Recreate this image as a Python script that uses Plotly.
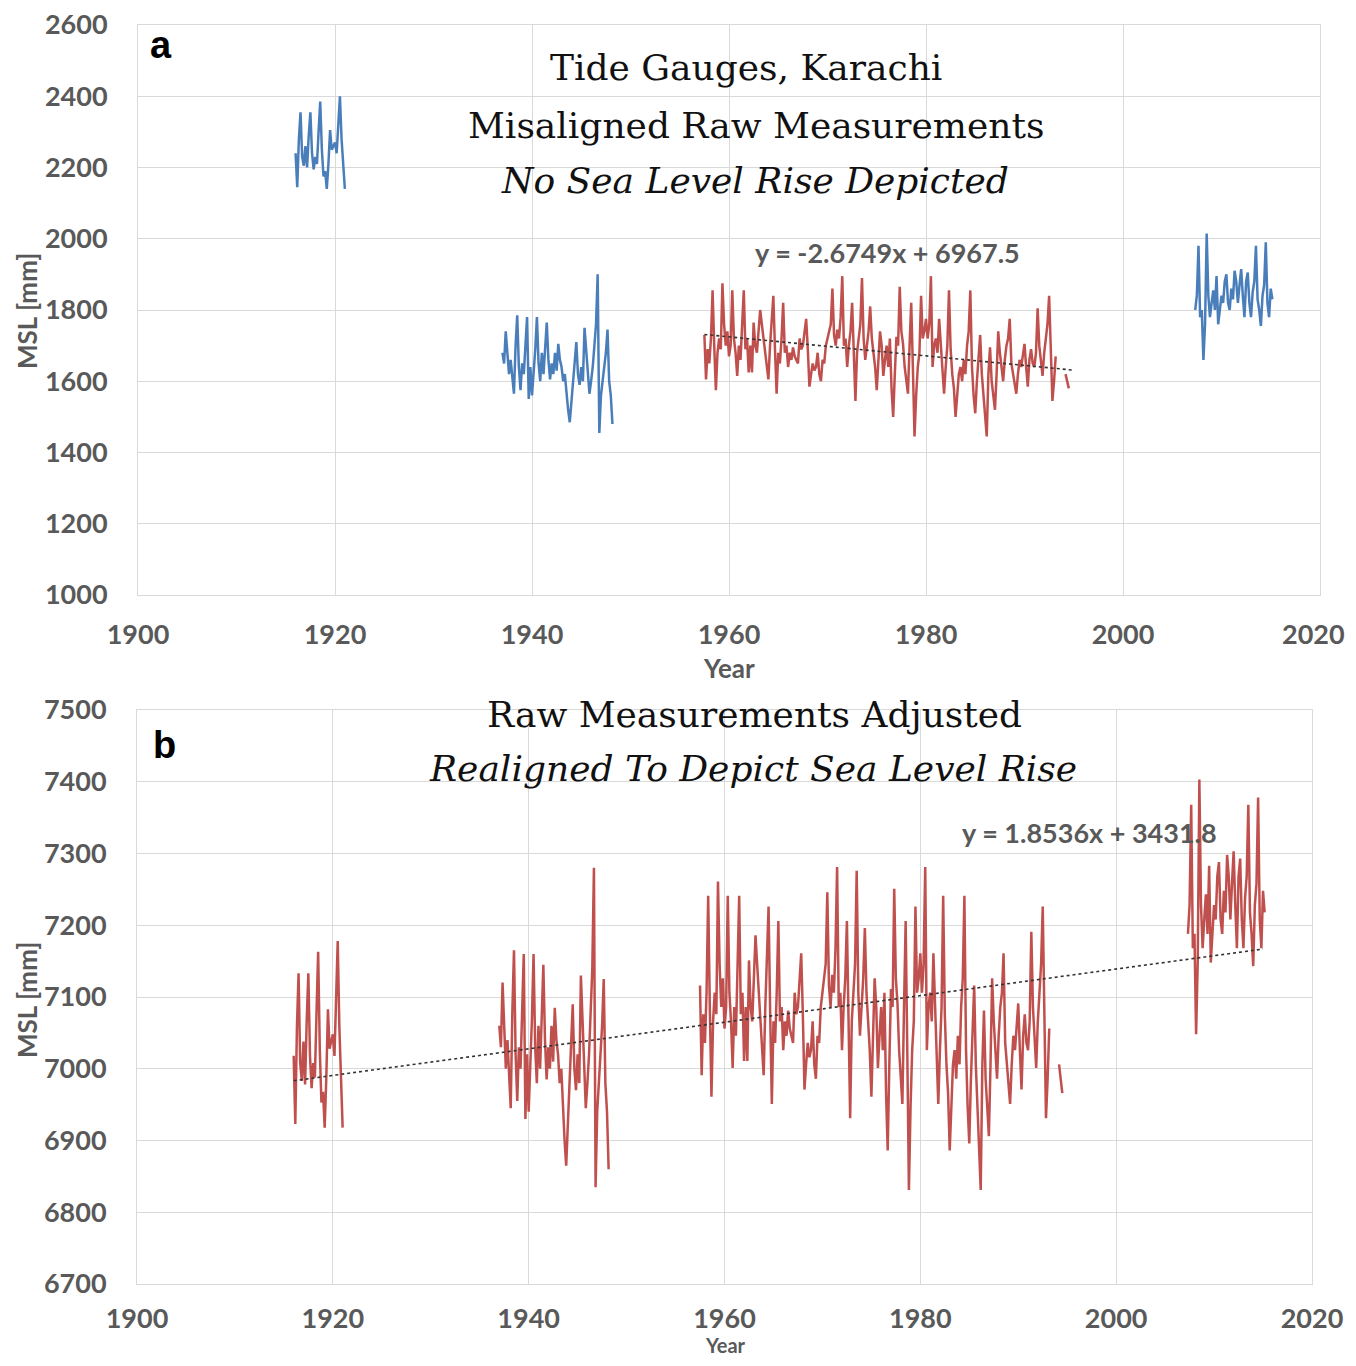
import plotly.graph_objects as go

# ---------------- DATA ----------------
# Raw MSL readings [mm], sampled every 2 months (6 per year)
seg1_start = 1916.0
seg1_raw = [
    2240, 2145, 2280, 2355, 2230, 2205,
    2260, 2200, 2290, 2355, 2240, 2195,
    2230, 2210, 2300, 2385, 2250, 2175,
    2190, 2140, 2210, 2305, 2250, 2260,
    2270, 2240, 2320, 2400, 2280, 2210,
    2140,
]

seg2_start = 1937.0
seg2_raw = [
    1680, 1650, 1740, 1690, 1620, 1660,
    1600, 1565, 1700, 1785, 1640, 1575,
    1650, 1620, 1700, 1780, 1550, 1640,
    1560, 1620, 1690, 1780, 1650, 1600,
    1680, 1620, 1700, 1765, 1660, 1605,
    1650, 1620, 1680, 1630, 1705, 1660,
    1640, 1600, 1620, 1560, 1520, 1485,
    1540, 1600, 1650, 1710, 1620, 1590,
    1640, 1600, 1750, 1680, 1620, 1565,
    1600, 1640, 1700, 1760, 1900, 1455,
    1560, 1600, 1640, 1680, 1745, 1600,
    1560, 1480,
]

seg3_start = 1957.5
seg3_raw = [
                      1730, 1605, 1690,
    1650, 1720, 1855, 1700, 1575, 1680,   # 1958
    1720, 1690, 1875, 1760, 1700, 1740,   # 1959
    1670, 1700, 1855, 1720, 1680, 1615,   # 1960
    1700, 1660, 1740, 1855, 1690, 1720,   # 1961
    1625, 1700, 1625, 1765, 1700, 1680,   # 1962
    1740, 1800, 1760, 1720, 1690, 1640,   # 1963
    1605, 1700, 1760, 1840, 1690, 1565,   # 1964
    1680, 1650, 1720, 1820, 1680, 1700,   # 1965
    1640, 1680, 1660, 1695, 1670, 1660,   # 1966
    1650, 1720, 1690, 1700, 1740, 1775,   # 1967
    1690, 1585, 1620, 1650, 1630, 1640,   # 1968
    1680, 1620, 1600, 1660, 1650, 1700,   # 1969
    1720, 1740, 1760, 1860, 1730, 1700,   # 1970
    1745, 1720, 1780, 1895, 1700, 1720,   # 1971
    1640, 1700, 1740, 1820, 1690, 1545,   # 1972
    1680, 1720, 1760, 1890, 1720, 1660,   # 1973
    1700, 1740, 1810, 1720, 1680, 1640,   # 1974
    1575, 1650, 1740, 1700, 1615, 1660,   # 1975
    1700, 1640, 1720, 1580, 1500, 1620,   # 1976
    1725, 1700, 1865, 1740, 1705, 1640,   # 1977
    1600, 1565, 1700, 1820, 1640, 1445,   # 1978
    1560, 1640, 1680, 1840, 1720, 1740,   # 1979
    1775, 1720, 1760, 1895, 1640, 1700,   # 1980
    1720, 1680, 1775, 1700, 1620, 1565,   # 1981
    1640, 1700, 1855, 1690, 1620, 1580,   # 1982
    1500, 1560, 1620, 1640, 1600, 1660,   # 1983
    1620, 1700, 1740, 1855, 1640, 1560,   # 1984
    1510, 1600, 1660, 1730, 1620, 1560,   # 1985
    1500, 1445, 1620, 1695, 1600, 1560,   # 1986
    1520, 1620, 1740, 1680, 1640, 1600,   # 1987
    1660, 1700, 1720, 1775, 1650, 1620,   # 1988
    1600, 1565, 1620, 1660, 1640, 1680,   # 1989
    1705, 1640, 1585, 1660, 1690, 1650,   # 1990
    1640, 1680, 1805, 1700, 1660, 1615,   # 1991
    1680, 1720, 1760, 1840, 1660, 1545,   # 1992
    1600, 1670, None, None, None, None,   # 1993
    None, 1620, 1600, 1580,               # 1994
]

seg4_start = 2007.33
seg4_raw = [
    1800, 1840, 1980, 1780,
    1800, 1660, 1760, 2015, 1840, 1780,   # 2008
    1820, 1855, 1800, 1895, 1760, 1800,   # 2009
    1840, 1820, 1880, 1900, 1820, 1800,   # 2010
    1860, 1830, 1910, 1880, 1820, 1870,   # 2011
    1915, 1840, 1780, 1880, 1905, 1820,   # 2012
    1780, 1850, 1880, 1980, 1830, 1800,   # 2013
    1755, 1840, 1870, 1990, 1820, 1780,   # 2014
    1860, 1830,
]

# realignment offsets [mm] applied to each raw segment in panel b
seg_offsets = [4778, 5380, 5386, 5388]

# linear trend lines (as printed on the chart)
trend_a = {"slope": -2.6749, "intercept": 6967.5, "x": [1957.5, 1995.0]}
trend_b = {"slope": 1.8536, "intercept": 3431.8, "x": [1916.0, 2015.0]}

x_ticks = [1900, 1920, 1940, 1960, 1980, 2000, 2020]
ya_ticks = [1000, 1200, 1400, 1600, 1800, 2000, 2200, 2400, 2600]
yb_ticks = [6700, 6800, 6900, 7000, 7100, 7200, 7300, 7400, 7500]

# ---------------- STYLE ----------------
# the page body has an 8px margin, so the figure is drawn 8px in from the corner
PAD = 8
W, H = 1356 - 2 * PAD, 1366 - 2 * PAD
BLUE = "#4a7ebb"
RED = "#c0504d"
GRID = "#d9d9d9"
TXT = "#595959"
TICKFONT = dict(family="Lato", size=27, color=TXT, weight="bold")


def px_x(p):
    return (p - PAD) / W


def px_y(p):
    return 1 - (p - PAD) / H


segments = [
    (seg1_start, seg1_raw, BLUE),
    (seg2_start, seg2_raw, BLUE),
    (seg3_start, seg3_raw, RED),
    (seg4_start, seg4_raw, BLUE),
]

fig = go.Figure()

for k, (start, vals, col) in enumerate(segments):
    xs = [start + i / 6 for i in range(len(vals))]
    fig.add_trace(go.Scatter(x=xs, y=vals, mode="lines",
                             line=dict(color=col, width=2.5),
                             xaxis="x", yaxis="y", showlegend=False,
                             connectgaps=False))
    adj = [None if v is None else v + seg_offsets[k] for v in vals]
    fig.add_trace(go.Scatter(x=xs, y=adj, mode="lines",
                             line=dict(color=RED, width=2.5),
                             xaxis="x2", yaxis="y2", showlegend=False,
                             connectgaps=False))

for tr, xa, ya in [(trend_a, "x", "y"), (trend_b, "x2", "y2")]:
    ty = [tr["slope"] * x + tr["intercept"] for x in tr["x"]]
    fig.add_trace(go.Scatter(x=tr["x"], y=ty, mode="lines",
                             line=dict(color="#333333", width=1.6, dash="dot"),
                             xaxis=xa, yaxis=ya, showlegend=False))

axis_common = dict(showgrid=True, gridcolor=GRID, gridwidth=1,
                   showline=True, linecolor=GRID, linewidth=1, mirror=True,
                   zeroline=False, tickfont=TICKFONT, ticks="",
                   automargin=False, ticklabeloverflow="allow")
ya_style = dict(ticklabelstandoff=24, **axis_common)

# top panel: the last year label sits at the page edge, so it is placed
# right-aligned as a separate text instead of as a centred tick label
top_x_ticks = x_ticks[:-1]

fig.update_layout(
    width=W, height=H,
    margin=dict(l=0, r=0, t=0, b=0),
    paper_bgcolor="white", plot_bgcolor="white",
    xaxis=dict(domain=[px_x(138), px_x(1320)], range=[1900, 2020],
               tickvals=top_x_ticks, anchor="y", ticklabelstandoff=16, **axis_common),
    yaxis=dict(domain=[px_y(595), px_y(25)], range=[1000, 2600],
               tickvals=ya_ticks, anchor="x", **ya_style),
    xaxis2=dict(domain=[px_x(137), px_x(1312)], range=[1900, 2020],
                tickvals=x_ticks, anchor="y2", ticklabelstandoff=11, **axis_common),
    yaxis2=dict(domain=[px_y(1284), px_y(710)], range=[6700, 7500],
                tickvals=yb_ticks, anchor="x2", **ya_style),
)

ann = []
ann.append(dict(text=str(x_ticks[-1]), x=px_x(1347), y=px_y(633),
                xref="paper", yref="paper", xanchor="right", yanchor="middle",
                showarrow=False, font=TICKFONT))

SERIF = "DejaVu Serif"
for text, xp, yp in [
    ("Tide Gauges, Karachi", 746, 68),
    ("Misaligned Raw Measurements", 756, 125),
    ("<i>No Sea Level Rise Depicted</i>", 755, 180),
    ("Raw Measurements Adjusted", 754, 714),
    ("<i>Realigned To Depict Sea Level Rise</i>", 753, 768),
]:
    ann.append(dict(text=text, x=px_x(xp), y=px_y(yp), xref="paper", yref="paper",
                    xanchor="center", yanchor="middle", showarrow=False,
                    font=dict(family=SERIF, size=36, color="#111111")))

# panel letters
for text, xp, yp in [("a", 161, 45), ("b", 164, 745)]:
    ann.append(dict(text=text, x=px_x(xp), y=px_y(yp), xref="paper", yref="paper",
                    xanchor="center", yanchor="middle", showarrow=False,
                    font=dict(family="Liberation Sans", size=38, color="black",
                              weight="bold")))

# equations
ann.append(dict(text="y = -2.6749x + 6967.5", x=px_x(887), y=px_y(253),
                xref="paper", yref="paper", xanchor="center", yanchor="middle",
                showarrow=False, font=dict(family="Lato", size=27, color=TXT, weight="bold")))
ann.append(dict(text="y = 1.8536x + 3431.8", x=px_x(1089), y=px_y(832),
                xref="paper", yref="paper", xanchor="center", yanchor="middle",
                showarrow=False, font=dict(family="Lato", size=27, color=TXT, weight="bold")))

# axis titles
for text, xp, yp, ang, sz in [("MSL [mm]", 27, 311, -90, 26), ("Year", 729, 668, 0, 26),
                              ("MSL [mm]", 27, 1000, -90, 26), ("Year", 725, 1345, 0, 20)]:
    ann.append(dict(text=text, x=px_x(xp), y=px_y(yp), xref="paper", yref="paper",
                    xanchor="center", yanchor="middle", showarrow=False, textangle=ang,
                    borderpad=0,
                    font=dict(family="Lato", size=sz, color=TXT, weight="bold")))

fig.update_layout(annotations=ann)
fig.write_html("out.html")
